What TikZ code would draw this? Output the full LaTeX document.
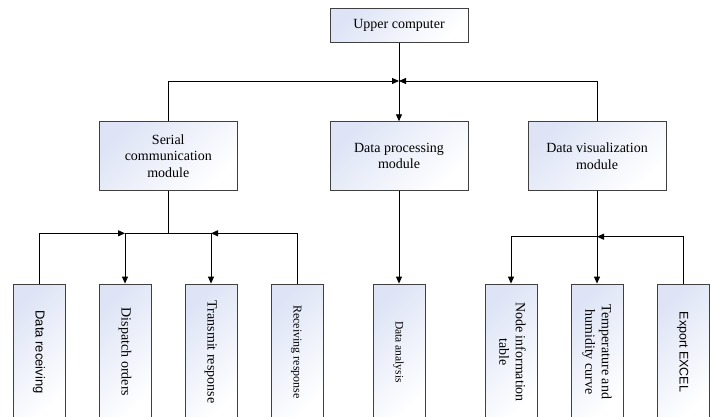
\documentclass[tikz,border=0pt]{standalone}
\usepackage{fontspec}
\setmainfont{Liberation Serif}
\newfontfamily\arialfont{Liberation Sans}
\usepackage{graphicx}
\usetikzlibrary{arrows.meta,positioning}
\definecolor{boxblue}{RGB}{222,228,246}
\newcommand{\vlabel}[1]{\rotatebox{-90}{\begin{tabular}{@{}c@{}}#1\end{tabular}}}

\begin{document}
\begin{tikzpicture}[
        x=1pt, y=-1pt,
        >={Triangle[length=7pt,width=6pt]},
        node distance=86pt,
        box/.style={draw=black!75, line width=0.8pt, top color=boxblue, bottom color=white,
            shading angle=45, align=center, inner sep=0pt, font=\fontsize{14}{16.5}\selectfont},
        module/.style={box, minimum width=138pt, minimum height=68.6pt},
        leaf/.style={box, minimum width=52pt, minimum height=136pt},
        wire/.style={line width=0.9pt, black}
    ]
    \clip (0,0) rectangle (713,417);

    % top and module row
    \node[box, minimum width=138pt, minimum height=34.4pt] (UP) at (399,25.5) {Upper computer};
    \node[module] (SE) at (168.3,156) {Serial\\communication\\module};
    \node[module] (PR) at (399,156) {Data processing\\module};
    \node[module] (VI) at (597,156) {Data visualization\\module};

    % leaf row
    \node[leaf] (DR) at (39,352) {\vlabel{\arialfont\fontsize{13}{15}\selectfont Data receiving}};
    \node[leaf] (DO) [right of=DR] {\vlabel{Dispatch orders}};
    \node[leaf] (TR) [right of=DO] {\vlabel{Transmit response}};
    \node[leaf] (RR) [right of=TR] {\vlabel{\fontsize{12}{14}\selectfont Receiving response}};
    \node[leaf] (AN) at (399,352) {\vlabel{\fontsize{11.5}{14}\selectfont Data analysis}};
    \node[leaf] (NT) at (511,352) {\vlabel{Node information\\table}};
    \node[leaf] (TP) [right of=NT] {\vlabel{Temperature and\\humidity curve}};
    \node[leaf] (EX) [right of=TP] {\vlabel{\arialfont\fontsize{12.5}{15}\selectfont Export EXCEL}};

    \coordinate (TJ) at (399,81);
    \coordinate (lowrow) at (0,233.3);
    \coordinate (visrow) at (0,236.7);
    \coordinate (LJ) at (DO.north |- lowrow);
    \coordinate (RJ) at (TR.north |- lowrow);
    \coordinate (VJ) at (TP.north |- visrow);

    % upper level
    \draw[wire,->] (UP) -- (PR);
    \draw[wire,->] (SE.north) |- (TJ);
    \draw[wire,->] (VI.north) |- (TJ);

    % serial branch
    \draw[wire] (SE.south) -- (SE.south |- lowrow);
    \draw[wire] (LJ) -- (RJ);
    \draw[wire,->] (DR.north) |- (LJ);
    \draw[wire,->] (RR.north) |- (RJ);
    \draw[wire,->] (LJ) -- (DO.north);
    \draw[wire,->] (RJ) -- (TR.north);

    % processing branch
    \draw[wire,->] (PR) -- (AN);

    % visualization branch
    \draw[wire,->] (VI) -- (TP);
    \draw[wire,->] (EX.north) |- (VJ);
    \draw[wire,->] (VJ) -| (NT.north);
\end{tikzpicture}
\end{document}
